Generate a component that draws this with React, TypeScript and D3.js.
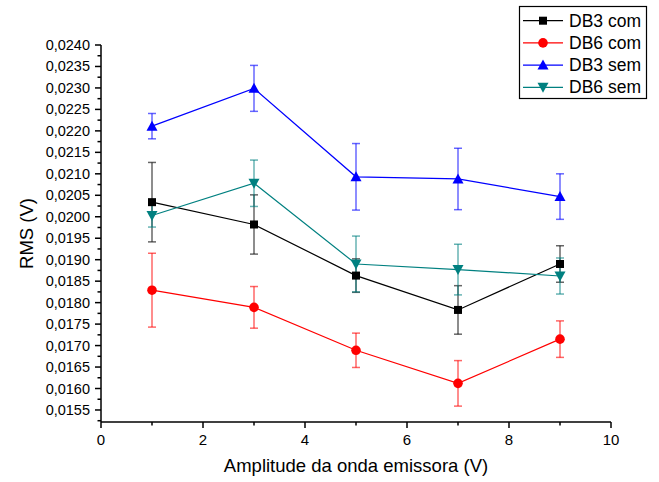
import React from "react";
import * as d3 from "d3";

const xs = [1, 3, 5, 7, 9];
const db3com = [0.02034, 0.01982, 0.01863, 0.01783, 0.0189];
const db3comErr = [0.000925, 0.00069, 0.00039, 0.000565, 0.000425];
const db6com = [0.01829, 0.01789, 0.01689, 0.01612, 0.01715];
const db6comErr = [0.00086, 0.000485, 0.0004, 0.00053, 0.000425];
const db3sem = [0.02211, 0.02299, 0.02093, 0.02088, 0.02047];
const db3semErr = [0.000295, 0.000535, 0.000775, 0.000715, 0.00053];
const db6sem = [0.02003, 0.02078, 0.0189, 0.01877, 0.01862];
const db6semErr = [0.00027, 0.00054, 0.00065, 0.00059, 0.00042];

const seriesNames = ["DB3 com", "DB6 com", "DB3 sem", "DB6 sem"];
const xTicks = [0, 2, 4, 6, 8, 10];
const xTitle = "Amplitude da onda emissora (V)";
const yTitle = "RMS (V)";

const W = 659;
const H = 482;
const L = 101, R = 611, T = 45, B = 422;

type Shape = "square" | "circle" | "up" | "down";

function Marker({ shape, cx, cy, color }: { shape: Shape; cx: number; cy: number; color: string }) {
  if (shape === "square") return <rect x={cx - 4} y={cy - 4} width={8} height={8} fill={color} />;
  if (shape === "circle") return <circle cx={cx} cy={cy} r={4.8} fill={color} />;
  if (shape === "up") {
    const p = `${cx - 5.5},${cy + 4.5} ${cx + 5.5},${cy + 4.5} ${cx},${cy - 5.5}`;
    return <polygon points={p} fill={color} />;
  }
  const p = `${cx - 5.5},${cy - 4.5} ${cx + 5.5},${cy - 4.5} ${cx},${cy + 5.5}`;
  return <polygon points={p} fill={color} />;
}

export default function App() {
  const x = d3.scaleLinear().domain([0, 10]).range([L, R]);
  const y = d3.scaleLinear().domain([0.01522, 0.024]).range([B, T]);

  const yMajor = d3.range(0, 18).map((i) => 0.0155 + i * 0.0005);
  const yMinor = d3.range(0, 18).map((i) => 0.01525 + i * 0.0005);
  const xMinor = [1, 3, 5, 7, 9];

  const series = [
    { name: seriesNames[0], vals: db3com, err: db3comErr, color: "#000000", shape: "square" as Shape },
    { name: seriesNames[1], vals: db6com, err: db6comErr, color: "#ff0000", shape: "circle" as Shape },
    { name: seriesNames[2], vals: db3sem, err: db3semErr, color: "#0000ff", shape: "up" as Shape },
    { name: seriesNames[3], vals: db6sem, err: db6semErr, color: "#008080", shape: "down" as Shape },
  ];

  const line = d3
    .line<number>()
    .x((_, i) => x(xs[i]))
    .y((d) => y(d));

  const fmt = (v: number) => d3.format(".4f")(v).replace(".", ",");
  const font = "Arial, 'Liberation Sans', sans-serif";

  return (
    <div style={{ position: "absolute", left: 0, top: 0 }}>
      <svg width={W} height={H} style={{ display: "block", background: "#fff" }} fontFamily={font}>
        {/* error bars */}
        {series.map((s) => (
          <g key={s.name + "err"} stroke={s.color} strokeOpacity={0.6} strokeWidth={1.5}>
            {s.vals.map((v, i) => {
              const cx = x(xs[i]);
              const y1 = y(v + s.err[i]);
              const y2 = y(v - s.err[i]);
              return (
                <g key={i}>
                  <line x1={cx} x2={cx} y1={y1} y2={y2} />
                  <line x1={cx - 4} x2={cx + 4} y1={y1} y2={y1} />
                  <line x1={cx - 4} x2={cx + 4} y1={y2} y2={y2} />
                </g>
              );
            })}
          </g>
        ))}
        {/* lines and markers */}
        {series.map((s) => (
          <g key={s.name}>
            <path d={line(s.vals) || ""} fill="none" stroke={s.color} strokeWidth={1.2} />
            {s.vals.map((v, i) => (
              <Marker key={i} shape={s.shape} cx={x(xs[i])} cy={y(v)} color={s.color} />
            ))}
          </g>
        ))}

        {/* axes */}
        <g stroke="#000" strokeWidth={1.5}>
          <line x1={L} x2={R} y1={B} y2={B} />
          <line x1={L} x2={L} y1={T} y2={B} />
          {xTicks.map((t) => (
            <line key={"xt" + t} x1={x(t)} x2={x(t)} y1={B} y2={B + 6} />
          ))}
          {xMinor.map((t) => (
            <line key={"xm" + t} x1={x(t)} x2={x(t)} y1={B} y2={B + 3.5} />
          ))}
          {yMajor.map((t) => (
            <line key={"yt" + t} x1={L - 6} x2={L} y1={y(t)} y2={y(t)} />
          ))}
          {yMinor.map((t) => (
            <line key={"ym" + t} x1={L - 3.5} x2={L} y1={y(t)} y2={y(t)} />
          ))}
        </g>
        {xTicks.map((t) => (
          <text key={"xl" + t} x={x(t)} y={B + 23} fontSize={15} textAnchor="middle" fill="#000">
            {t}
          </text>
        ))}
        {yMajor.map((t) => (
          <text key={"yl" + t} x={L - 11} y={y(t) + 5} fontSize={14.5} textAnchor="end" fill="#000">
            {fmt(t)}
          </text>
        ))}
        <text x={(L + R) / 2} y={472} fontSize={18.5} textAnchor="middle" fill="#000">
          {xTitle}
        </text>
        <text
          transform={`translate(33, ${(T + B) / 2}) rotate(-90)`}
          fontSize={18.5}
          textAnchor="middle"
          fill="#000"
        >
          {yTitle}
        </text>

        {/* legend */}
        <rect x={519.5} y={6.5} width={127} height={92} fill="#fff" stroke="#000" strokeWidth={1.2} />
        {series.map((s, i) => {
          const ly = 20.7 + i * 22.2;
          return (
            <g key={"lg" + s.name}>
              <line x1={523} x2={563} y1={ly} y2={ly} stroke={s.color} strokeWidth={1.2} />
              <Marker shape={s.shape} cx={543} cy={ly} color={s.color} />
              <text x={569} y={ly + 6} fontSize={17.5} fill="#000">
                {s.name}
              </text>
            </g>
          );
        })}
      </svg>
    </div>
  );
}
